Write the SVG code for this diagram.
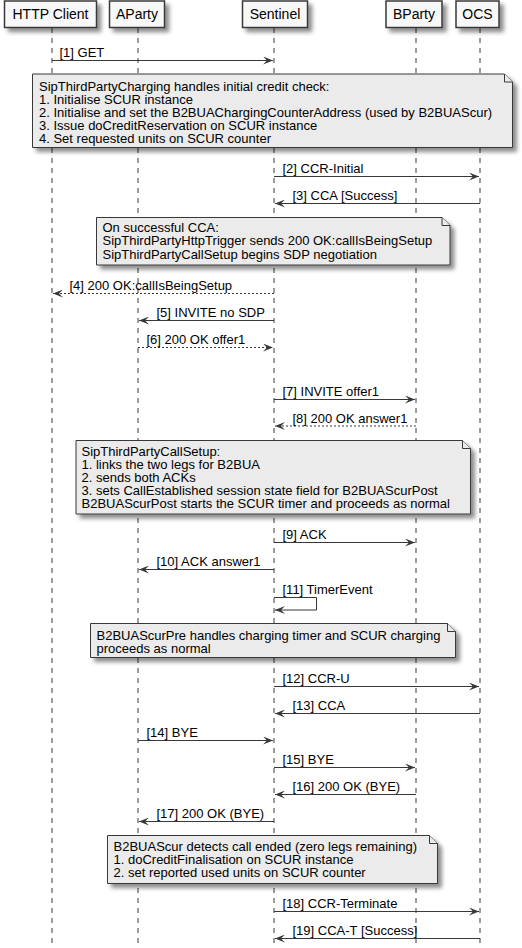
<svg xmlns="http://www.w3.org/2000/svg" width="522" height="948" viewBox="0 0 522 948">
<defs>
<filter id="sh" x="-10%" y="-10%" width="130%" height="140%">
<feGaussianBlur in="SourceAlpha" stdDeviation="2"/>
<feOffset dx="4" dy="4" result="b"/>
<feComponentTransfer><feFuncA type="linear" slope="0.45"/></feComponentTransfer>
<feMerge><feMergeNode/><feMergeNode in="SourceGraphic"/></feMerge>
</filter>
<marker id="ah" markerWidth="10" markerHeight="8" refX="10" refY="4" orient="auto" markerUnits="userSpaceOnUse">
<path d="M0,0 L10,4 L0,8 L4,4 Z" fill="#383838"/>
</marker>
<style>
.box{fill:#F8F8F8;stroke:#383838;stroke-width:1.5}
.note{fill:#EBEBEB;stroke:#383838;stroke-width:1}
.life{stroke:#383838;stroke-width:1;stroke-dasharray:5,5}
.msg{stroke:#383838;stroke-width:1;fill:none;marker-end:url(#ah)}
.dash{stroke-dasharray:2,2}
text{font-family:"Liberation Sans",Arial,sans-serif;font-size:13px;fill:#000}
.hd{font-size:14px;text-anchor:middle}
</style>
</defs>
<g id="lifelines">
<line class="life" x1="52" y1="28" x2="52" y2="948"/>
<line class="life" x1="138" y1="28" x2="138" y2="948"/>
<line class="life" x1="274" y1="28" x2="274" y2="948"/>
<line class="life" x1="416" y1="28" x2="416" y2="948"/>
<line class="life" x1="480" y1="28" x2="480" y2="948"/>
</g>
<g id="p-http"><rect class="box" x="4.5" y="1" width="92" height="26.5" filter="url(#sh)"/><text class="hd" x="50.5" y="19">HTTP Client</text></g>
<g id="p-aparty"><rect class="box" x="109.5" y="1" width="55" height="26.5" filter="url(#sh)"/><text class="hd" x="137" y="19">AParty</text></g>
<g id="p-sentinel"><rect class="box" x="242.5" y="1" width="65" height="26.5" filter="url(#sh)"/><text class="hd" x="275" y="19">Sentinel</text></g>
<g id="p-bparty"><rect class="box" x="386" y="1" width="56" height="26.5" filter="url(#sh)"/><text class="hd" x="414" y="19">BParty</text></g>
<g id="p-ocs"><rect class="box" x="456" y="1" width="43" height="26.5" filter="url(#sh)"/><text class="hd" x="477.5" y="19">OCS</text></g>
<g id="connectors">
<line class="msg" x1="52" y1="60.5" x2="273" y2="60.5"/>
<line class="msg" x1="274" y1="176.5" x2="479" y2="176.5"/>
<line class="msg" x1="480" y1="203.5" x2="275" y2="203.5"/>
<line class="msg dash" x1="274" y1="293.5" x2="53" y2="293.5"/>
<line class="msg" x1="274" y1="320.5" x2="139" y2="320.5"/>
<line class="msg dash" x1="138" y1="347.5" x2="273" y2="347.5"/>
<line class="msg" x1="274" y1="399.5" x2="415" y2="399.5"/>
<line class="msg dash" x1="416" y1="426" x2="275" y2="426"/>
<line class="msg" x1="274" y1="542.5" x2="415" y2="542.5"/>
<line class="msg" x1="274" y1="569.5" x2="139" y2="569.5"/>
<polyline class="msg" points="274,597.5 316.5,597.5 316.5,610 275,610"/>
<line class="msg" x1="274" y1="686.5" x2="479" y2="686.5"/>
<line class="msg" x1="480" y1="713.5" x2="275" y2="713.5"/>
<line class="msg" x1="138" y1="740.5" x2="273" y2="740.5"/>
<line class="msg" x1="274" y1="767.5" x2="415" y2="767.5"/>
<line class="msg" x1="416" y1="794.5" x2="275" y2="794.5"/>
<line class="msg" x1="274" y1="821.5" x2="139" y2="821.5"/>
<line class="msg" x1="274" y1="911.5" x2="479" y2="911.5"/>
<line class="msg" x1="480" y1="938.5" x2="275" y2="938.5"/>
</g>
<g id="labels">
<text x="59.5" y="57">[1] GET</text>
<text x="282.5" y="173">[2] CCR-Initial</text>
<text x="292.5" y="200">[3] CCA [Success]</text>
<text x="69.5" y="290">[4] 200 OK:callIsBeingSetup</text>
<text x="156.5" y="317">[5] INVITE no SDP</text>
<text x="146.5" y="344">[6] 200 OK offer1</text>
<text x="282.5" y="396">[7] INVITE offer1</text>
<text x="292.5" y="422.5">[8] 200 OK answer1</text>
<text x="282.5" y="539">[9] ACK</text>
<text x="156.5" y="566">[10] ACK answer1</text>
<text x="282.5" y="594">[11] TimerEvent</text>
<text x="282.5" y="683">[12] CCR-U</text>
<text x="292.5" y="710">[13] CCA</text>
<text x="146.5" y="737">[14] BYE</text>
<text x="282.5" y="764">[15] BYE</text>
<text x="292.5" y="791">[16] 200 OK (BYE)</text>
<text x="156.5" y="818">[17] 200 OK (BYE)</text>
<text x="282.5" y="908">[18] CCR-Terminate</text>
<text x="292.5" y="935">[19] CCA-T [Success]</text>
</g>
<g id="note1">
<path class="note" filter="url(#sh)" d="M32.5,74 L504.5,74 L512.5,82 L512.5,147.5 L32.5,147.5 Z"/>
<path class="note" d="M504.5,74 L504.5,82 L512.5,82" fill="none"/>
<text x="39" y="91">SipThirdPartyCharging handles initial credit check:</text>
<text x="39" y="104">1. Initialise SCUR instance</text>
<text x="39" y="117">2. Initialise and set the B2BUAChargingCounterAddress (used by B2BUAScur)</text>
<text x="39" y="130">3. Issue doCreditReservation on SCUR instance</text>
<text x="39" y="143">4. Set requested units on SCUR counter</text>
</g>
<g id="note2">
<path class="note" filter="url(#sh)" d="M96.5,217.5 L442,217.5 L450,225.5 L450,265 L96.5,265 Z"/>
<path class="note" d="M442,217.5 L442,225.5 L450,225.5" fill="none"/>
<text x="102.5" y="232">On successful CCA:</text>
<text x="102.5" y="245.3">SipThirdPartyHttpTrigger sends 200 OK:callIsBeingSetup</text>
<text x="102.5" y="258.6">SipThirdPartyCallSetup begins SDP negotiation</text>
</g>
<g id="note3">
<path class="note" filter="url(#sh)" d="M76,440.5 L462.5,440.5 L470.5,448.5 L470.5,514 L76,514 Z"/>
<path class="note" d="M462.5,440.5 L462.5,448.5 L470.5,448.5" fill="none"/>
<text x="81.5" y="456">SipThirdPartyCallSetup:</text>
<text x="81.5" y="469">1. links the two legs for B2BUA</text>
<text x="81.5" y="482">2. sends both ACKs</text>
<text x="81.5" y="495">3. sets CallEstablished session state field for B2BUAScurPost</text>
<text x="81.5" y="508">B2BUAScurPost starts the SCUR timer and proceeds as normal</text>
</g>
<g id="note4">
<path class="note" filter="url(#sh)" d="M90.5,623.5 L447.5,623.5 L455.5,631.5 L455.5,657.5 L90.5,657.5 Z"/>
<path class="note" d="M447.5,623.5 L447.5,631.5 L455.5,631.5" fill="none"/>
<text x="96.5" y="639.5">B2BUAScurPre handles charging timer and SCUR charging</text>
<text x="96.5" y="652.5">proceeds as normal</text>
</g>
<g id="note5">
<path class="note" filter="url(#sh)" d="M107.5,835.5 L429.5,835.5 L437.5,843.5 L437.5,883.5 L107.5,883.5 Z"/>
<path class="note" d="M429.5,835.5 L429.5,843.5 L437.5,843.5" fill="none"/>
<text x="113.5" y="851">B2BUAScur detects call ended (zero legs remaining)</text>
<text x="113.5" y="864">1. doCreditFinalisation on SCUR instance</text>
<text x="113.5" y="877">2. set reported used units on SCUR counter</text>
</g>
</svg>
